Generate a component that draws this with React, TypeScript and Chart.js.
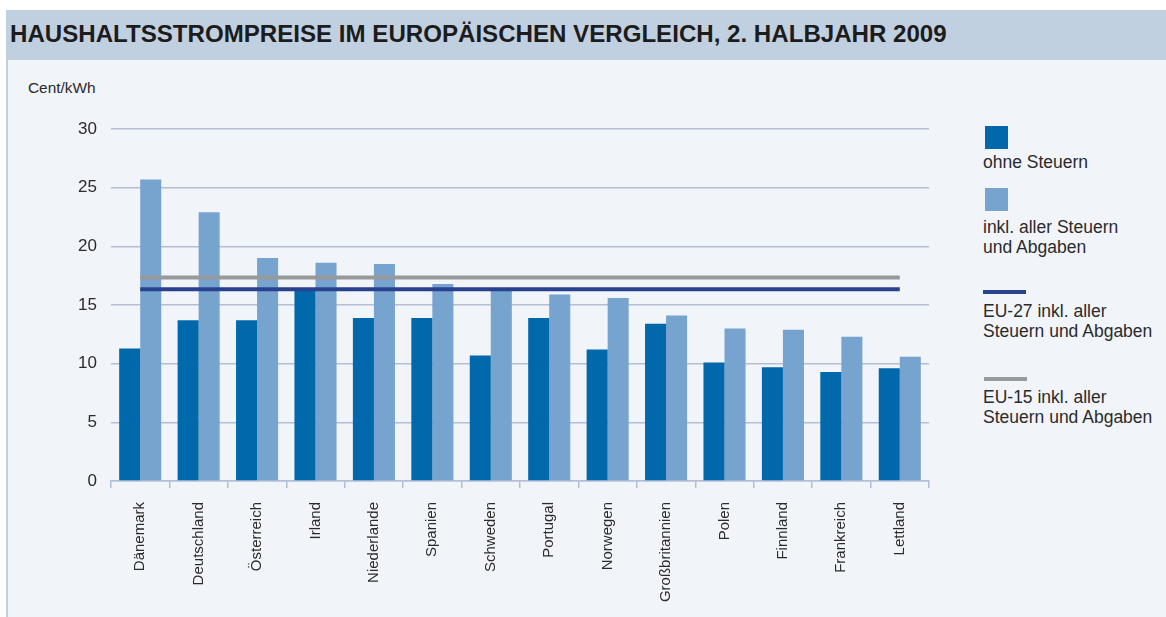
import React, { useEffect, useRef } from "react";
import { Chart, registerables } from "chart.js";

Chart.register(...registerables);

const categories = [
  "Dänemark", "Deutschland", "Österreich", "Irland", "Niederlande", "Spanien", "Schweden",
  "Portugal", "Norwegen", "Großbritannien", "Polen", "Finnland", "Frankreich", "Lettland",
];
const ohneSteuern = [11.3, 13.7, 13.7, 16.4, 13.9, 13.9, 10.7, 13.9, 11.2, 13.4, 10.1, 9.7, 9.3, 9.6];
const inklSteuern = [25.7, 22.9, 19.0, 18.6, 18.5, 16.8, 16.4, 15.9, 15.6, 14.1, 13.0, 12.9, 12.3, 10.6];
const eu27Value = 16.35;
const eu15Value = 17.35;
const yMin = 0;
const yMax = 30;
const yStep = 5;

const titleText = "HAUSHALTSSTROMPREISE IM EUROPÄISCHEN VERGLEICH, 2. HALBJAHR 2009";
const unitText = "Cent/kWh";

const DARK = "#0068ab";
const LIGHT = "#77a3cf";
const NAVY = "#29428f";
const GREY = "#979a9c";
const GRID = "#b3bfd7";
const BG = "#f1f4f9";
const BAND = "#c1d0e1";
const TEXT = "#2b2b2b";
const FONT = "'Liberation Sans', Arial, sans-serif";

export default function App() {
  const canvasRef = useRef<HTMLCanvasElement | null>(null);

  useEffect(() => {
    const canvas = canvasRef.current;
    if (!canvas) return;
    const chart = new Chart(canvas, {
      type: "bar",
      data: {
        labels: categories,
        datasets: [
          {
            type: "line",
            label: "EU-15 inkl. aller Steuern und Abgaben",
            data: categories.map(() => eu15Value),
            borderColor: GREY,
            borderWidth: 4,
            pointRadius: 0,
            fill: false,
            order: 0,
          } as any,
          {
            type: "line",
            label: "EU-27 inkl. aller Steuern und Abgaben",
            data: categories.map(() => eu27Value),
            borderColor: NAVY,
            borderWidth: 4,
            pointRadius: 0,
            fill: false,
            order: 0,
          } as any,
          {
            type: "bar",
            label: "ohne Steuern",
            data: ohneSteuern,
            backgroundColor: DARK,
            categoryPercentage: 0.72,
            barPercentage: 1.0,
            order: 1,
          },
          {
            type: "bar",
            label: "inkl. aller Steuern und Abgaben",
            data: inklSteuern,
            backgroundColor: LIGHT,
            categoryPercentage: 0.72,
            barPercentage: 1.0,
            order: 1,
          },
        ],
      },
      options: {
        responsive: false,
        animation: false,
        layout: { padding: { left: 0, top: 129, right: 237, bottom: 0 } },
        plugins: { legend: { display: false }, tooltip: { enabled: false }, title: { display: false } },
        scales: {
          x: {
            afterFit: (scale: any) => {
              scale.height = 136;
            },
            border: { display: true, color: GRID, width: 1.5 },
            grid: {
              display: true,
              drawOnChartArea: false,
              drawTicks: true,
              tickLength: 7,
              color: GRID,
              lineWidth: 1.5,
              offset: true,
            },
            ticks: {
              autoSkip: false,
              maxRotation: 90,
              minRotation: 90,
              padding: 14,
              color: TEXT,
              font: { family: FONT, size: 15 },
            },
          },
          y: {
            min: yMin,
            max: yMax,
            afterFit: (scale: any) => {
              scale.width = 111;
            },
            border: { display: false },
            grid: { color: GRID, lineWidth: 1.5, drawTicks: false },
            ticks: {
              stepSize: yStep,
              padding: 14,
              color: TEXT,
              font: { family: FONT, size: 17 },
            },
          },
        },
      },
    });
    return () => chart.destroy();
  }, []);

  const legendText: React.CSSProperties = {
    position: "absolute",
    left: 983,
    fontFamily: FONT,
    fontSize: 17.5,
    lineHeight: "20px",
    color: TEXT,
    whiteSpace: "nowrap",
  };

  return (
    <div style={{ position: "fixed", left: 0, top: 0, width: 1166, height: 617, background: "#ffffff", overflow: "hidden" }}>
      <div style={{ position: "absolute", left: 6, top: 10, width: 1160, height: 607, background: BG }} />
      <div style={{ position: "absolute", left: 6, top: 60, width: 1.5, height: 557, background: BAND }} />
      <div
        style={{
          position: "absolute", left: 6, top: 10, width: 1160, height: 50, background: BAND,
        }}
      />
      <div
        style={{
          position: "absolute", left: 10, top: 19, fontFamily: FONT, fontWeight: "bold", fontSize: 24.1,
          lineHeight: "30px", color: "#1c1c1c", whiteSpace: "nowrap",
        }}
      >
        {titleText}
      </div>
      <div style={{ position: "absolute", left: 28, top: 79, fontFamily: FONT, fontSize: 15.4, lineHeight: "18px", color: TEXT }}>
        {unitText}
      </div>

      <div style={{ position: "absolute", left: 985, top: 126, width: 23, height: 23, background: DARK }} />
      <div style={{ ...legendText, top: 152 }}>ohne Steuern</div>
      <div style={{ position: "absolute", left: 985, top: 188, width: 23, height: 23, background: LIGHT }} />
      <div style={{ ...legendText, top: 217 }}>inkl. aller Steuern<br />und Abgaben</div>
      <div style={{ position: "absolute", left: 983, top: 290, width: 43, height: 4, background: NAVY }} />
      <div style={{ ...legendText, top: 300.5 }}>EU-27 inkl. aller<br />Steuern und Abgaben</div>
      <div style={{ position: "absolute", left: 984, top: 377, width: 43, height: 4, background: GREY }} />
      <div style={{ ...legendText, top: 387 }}>EU-15 inkl. aller<br />Steuern und Abgaben</div>

      <canvas ref={canvasRef} width={1166} height={617} style={{ position: "absolute", left: 0, top: 0 }} />
    </div>
  );
}
